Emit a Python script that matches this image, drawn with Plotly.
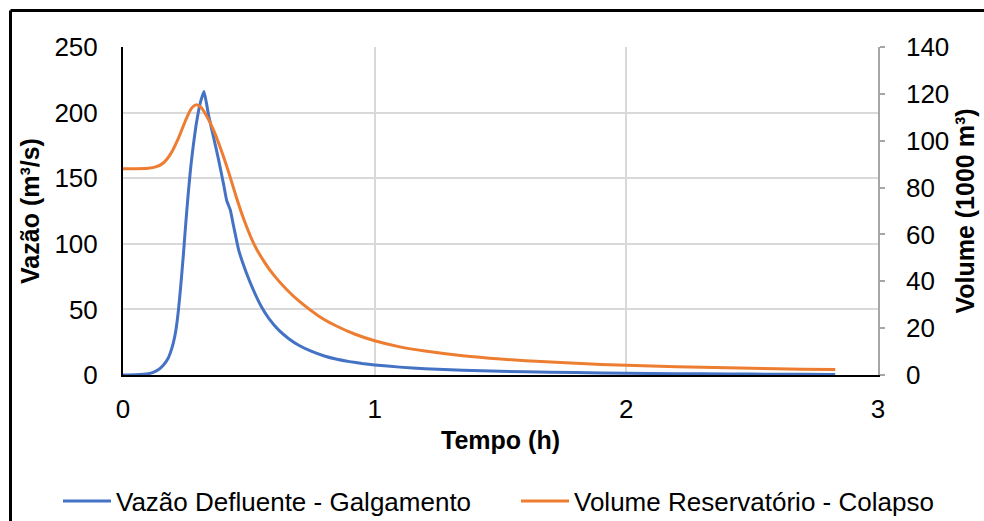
import plotly.graph_objects as go

# ---- data ----
t_vazao = [0, 0.05, 0.10, 0.12, 0.14, 0.16, 0.18, 0.19, 0.20, 0.21, 0.22, 0.23, 0.24,
           0.25, 0.26, 0.27, 0.28, 0.29, 0.30, 0.31, 0.322,
           0.34, 0.36, 0.38, 0.40, 0.412, 0.426, 0.44, 0.46, 0.49, 0.52, 0.55, 0.58,
           0.62, 0.66, 0.70, 0.75, 0.80, 0.85, 0.90, 0.95, 1.0, 1.1, 1.2, 1.35, 1.5,
           1.7, 1.9, 2.1, 2.3, 2.5, 2.7, 2.83]
vazao = [0, 0.2, 1, 2, 4, 7.5, 13, 18, 24.5, 34, 49, 69, 92,
         117, 140, 160, 176, 190, 201, 209.5, 216,
         198, 181, 164, 145, 133, 126, 113, 95, 78, 64, 52, 43,
         34, 27.5, 22.5, 18, 14.5, 12, 10.2, 8.8, 7.7, 6, 4.8, 3.6, 2.8,
         2.1, 1.6, 1.2, 0.9, 0.7, 0.5, 0.4]

t_volume = [0, 0.05, 0.10, 0.13, 0.16, 0.19, 0.22, 0.25, 0.27, 0.29, 0.31, 0.33, 0.36,
            0.39, 0.42, 0.45, 0.48, 0.52, 0.56, 0.60, 0.65, 0.70, 0.78, 0.85, 0.92, 1.0,
            1.1, 1.2, 1.35, 1.5, 1.7, 1.9, 2.1, 2.3, 2.5, 2.7, 2.83]
volume = [88, 88, 88.2, 88.8, 90.5, 94.5, 101, 109, 113.5, 115.3, 114.2, 111, 104.5,
          96, 86.5, 76, 66.5, 56, 48.5, 42.5, 36.5, 31.5, 25, 20.8, 17.5, 14.6,
          12, 10.2, 8.2, 6.8, 5.5, 4.5, 3.8, 3.3, 2.9, 2.5, 2.3]

name_vazao = "Vazão Defluente - Galgamento"
name_volume = "Volume Reservatório - Colapso"

FONT = "Liberation Sans, Arial, sans-serif"

fig = go.Figure()
fig.add_trace(go.Scatter(x=t_vazao, y=vazao, name=name_vazao, mode="lines",
                         line=dict(color="#4472C4", width=3, shape="spline", smoothing=0.4),
                         yaxis="y", legend="legend"))
fig.add_trace(go.Scatter(x=t_volume, y=volume, name=name_volume, mode="lines",
                         line=dict(color="#ED7D31", width=3, shape="spline", smoothing=0.6),
                         yaxis="y2", legend="legend2"))

# plot area: x 123..878 px, y 47..375 px
L, R, T, B = 123, 106, 47, 146
PW, PH = 984 - L - R, 521 - T - B

def px(x):
    return (x - L) / PW

def py(y):
    return (521 - B - y) / PH

leg_common = dict(orientation="h", xanchor="left", yanchor="middle", itemwidth=48,
                  font=dict(size=26), bgcolor="rgba(0,0,0,0)", borderwidth=0)

fig.update_layout(
    width=984, height=521,
    margin=dict(l=L, r=R, t=T, b=B, autoexpand=False),
    paper_bgcolor="white", plot_bgcolor="white",
    font=dict(family=FONT, size=26, color="#000000"),
    showlegend=True,
    legend=dict(x=px(58), y=py(501), **leg_common),
    legend2=dict(x=px(516), y=py(501), **leg_common),
    xaxis=dict(range=[0, 3], dtick=1, showgrid=True, gridcolor="#d9d9d9", gridwidth=1.5,
               zeroline=False, showline=True, linecolor="#000000", linewidth=2,
               ticks="", ticklabelstandoff=10,
               title=dict(text="<b>Tempo (h)</b>", font=dict(size=25), standoff=8)),
    yaxis=dict(range=[0, 250], dtick=50, showgrid=True, gridcolor="#d9d9d9", gridwidth=1.5,
               zeroline=False, showline=True, linecolor="#000000", linewidth=2,
               ticks="", ticklabelstandoff=18,
               title=dict(text="<b>Vazão (m³/s)</b>", font=dict(size=25), standoff=8)),
    yaxis2=dict(range=[0, 140], dtick=20, overlaying="y", side="right", showgrid=False,
                zeroline=False, showline=True, linecolor="#a6a6a6", linewidth=1.5,
                ticks="outside", ticklen=5, tickcolor="#a6a6a6", tickwidth=1.5,
                ticklabelstandoff=16,
                title=dict(text="<b>Volume (1000 m³)</b>", font=dict(size=25), standoff=8)),
    shapes=[
        dict(type="line", xref="paper", yref="paper", x0=px(10.5), x1=px(990),
             y0=py(10.5), y1=py(10.5), line=dict(color="#000000", width=3)),
        dict(type="line", xref="paper", yref="paper", x0=px(10.5), x1=px(10.5),
             y0=py(10.5), y1=py(530), line=dict(color="#000000", width=3)),
    ],
)

fig.write_html("out.html")
